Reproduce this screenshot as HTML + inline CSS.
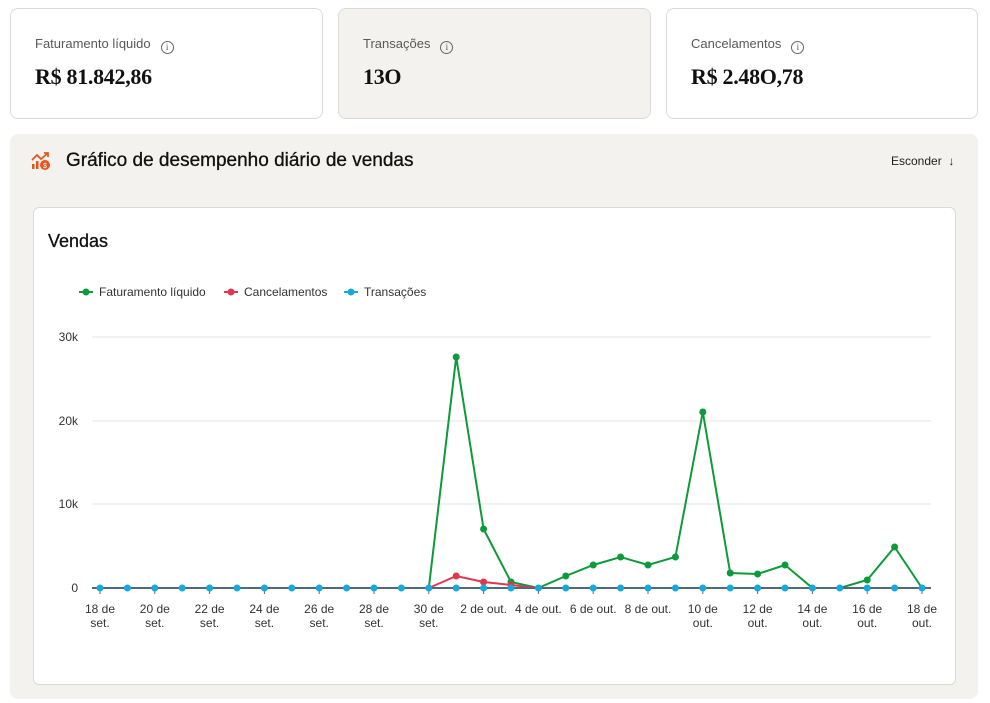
<!DOCTYPE html>
<html><head><meta charset="utf-8"><style>
*{box-sizing:border-box;margin:0;padding:0}
body{width:990px;height:703px;background:#fff;font-family:"Liberation Sans",sans-serif;position:relative;overflow:hidden;color:#111}
.card{position:absolute;top:8px;height:111px;border:1px solid #dcdad6;border-radius:8px;background:#fff}
.card .l{position:absolute;left:24px;top:27px;font-size:13px;color:#595959}
.card .l span{display:inline-block;width:13px;height:13px;border:1.3px solid #666;border-radius:50%;font-size:9px;text-align:center;line-height:11px;margin-left:10px;vertical-align:-2px;font-family:"Liberation Serif",serif;color:#555}
.card .v{position:absolute;left:24px;top:55px;font-size:22px;font-weight:bold;font-family:"Liberation Serif",serif;letter-spacing:-0.3px}
.panel{position:absolute;left:10px;top:134px;width:968px;height:565px;background:#f3f2ef;border-radius:8px}
.inner{position:absolute;left:33px;top:207px;width:923px;height:478px;background:#fff;border:1px solid #dcdad6;border-radius:6px}
</style></head><body>
<div class="card" style="left:10px;width:313px"><div class="l">Faturamento líquido<span>i</span></div><div class="v">R$ 81.842,86</div></div>
<div class="card" style="left:338px;width:313px;background:#f3f2ef"><div class="l">Transações<span>i</span></div><div class="v">13O</div></div>
<div class="card" style="left:666px;width:312px"><div class="l">Cancelamentos<span>i</span></div><div class="v">R$ 2.48O,78</div></div>
<div class="panel"></div>
<svg style="position:absolute;left:31px;top:151px" width="22" height="22" viewBox="0 0 22 22"><g fill="#e8541c"><rect x="1" y="13" width="2.5" height="5"/><rect x="5" y="10" width="2.5" height="8"/><circle cx="14" cy="14" r="5"/></g><path d="M1 9 L6 4 L10 8 L17 2 M13 2 H17 V6" stroke="#e8541c" stroke-width="1.8" fill="none"/><text x="14" y="17" font-size="7" fill="#fff" text-anchor="middle" font-family="Liberation Sans">$</text></svg>
<div style="position:absolute;left:66px;top:150px;font-size:19px;color:#111;-webkit-text-stroke:0.3px #111">Gráfico de desempenho diário de vendas</div>
<div style="position:absolute;left:891px;top:154px;font-size:12px;color:#222">Esconder&nbsp;&nbsp;↓</div>
<div class="inner"></div>
<div style="position:absolute;left:48px;top:231px;font-size:18px;color:#111;-webkit-text-stroke:0.3px #111">Vendas</div>
<svg style="position:absolute;left:0;top:0" width="990" height="703" font-family="Liberation Sans,sans-serif" font-size="12">
<g font-size="12" fill="#333">
<line x1="79" y1="292" x2="93" y2="292" stroke="#0d9a3a" stroke-width="2"/><circle cx="86" cy="292" r="3.5" fill="#0d9a3a"/><text x="99" y="296">Faturamento líquido</text>
<line x1="224" y1="292" x2="238" y2="292" stroke="#e0364f" stroke-width="2"/><circle cx="231" cy="292" r="3.5" fill="#e0364f"/><text x="244" y="296">Cancelamentos</text>
<line x1="344" y1="292" x2="358" y2="292" stroke="#16a9dc" stroke-width="2"/><circle cx="351" cy="292" r="3.5" fill="#16a9dc"/><text x="364" y="296">Transações</text>
</g>
<g stroke="#e6e6e6"><line x1="92" y1="337" x2="931" y2="337"/><line x1="92" y1="421" x2="931" y2="421"/><line x1="92" y1="504" x2="931" y2="504"/></g>
<g fill="#333" text-anchor="end"><text x="78" y="341">30k</text><text x="78" y="425">20k</text><text x="78" y="508">10k</text><text x="78" y="592">0</text></g>
<g stroke="#666"><line x1="100" y1="588" x2="100" y2="594"/><line x1="154.8" y1="588" x2="154.8" y2="594"/><line x1="209.6" y1="588" x2="209.6" y2="594"/><line x1="264.4" y1="588" x2="264.4" y2="594"/><line x1="319.2" y1="588" x2="319.2" y2="594"/><line x1="374" y1="588" x2="374" y2="594"/><line x1="428.8" y1="588" x2="428.8" y2="594"/><line x1="483.6" y1="588" x2="483.6" y2="594"/><line x1="538.4" y1="588" x2="538.4" y2="594"/><line x1="593.2" y1="588" x2="593.2" y2="594"/><line x1="648" y1="588" x2="648" y2="594"/><line x1="702.8" y1="588" x2="702.8" y2="594"/><line x1="757.6" y1="588" x2="757.6" y2="594"/><line x1="812.4" y1="588" x2="812.4" y2="594"/><line x1="867.2" y1="588" x2="867.2" y2="594"/><line x1="922" y1="588" x2="922" y2="594"/></g>
<g fill="#333" text-anchor="middle">
<text x="100" y="613">18 de</text><text x="100" y="627">set.</text>
<text x="154.8" y="613">20 de</text><text x="154.8" y="627">set.</text>
<text x="209.6" y="613">22 de</text><text x="209.6" y="627">set.</text>
<text x="264.4" y="613">24 de</text><text x="264.4" y="627">set.</text>
<text x="319.2" y="613">26 de</text><text x="319.2" y="627">set.</text>
<text x="374" y="613">28 de</text><text x="374" y="627">set.</text>
<text x="428.8" y="613">30 de</text><text x="428.8" y="627">set.</text>
<text x="483.6" y="613">2 de out.</text>
<text x="538.4" y="613">4 de out.</text>
<text x="593.2" y="613">6 de out.</text>
<text x="648" y="613">8 de out.</text>
<text x="702.8" y="613">10 de</text><text x="702.8" y="627">out.</text>
<text x="757.6" y="613">12 de</text><text x="757.6" y="627">out.</text>
<text x="812.4" y="613">14 de</text><text x="812.4" y="627">out.</text>
<text x="867.2" y="613">16 de</text><text x="867.2" y="627">out.</text>
<text x="922" y="613">18 de</text><text x="922" y="627">out.</text>
</g>
<polyline fill="none" stroke="#0d9a3a" stroke-width="2" points="100,588 428.8,588 456.2,357 483.6,529 511,582 538.4,588 565.8,576 593.2,565 620.6,557 648,565 675.4,557 702.8,412 730.2,573 757.6,574 785,565 812.4,588 839.8,588 867.2,580 894.6,547 922,588"/>
<g fill="#0d9a3a"><circle cx="456.2" cy="357" r="3.5"/><circle cx="483.6" cy="529" r="3.5"/><circle cx="511" cy="582" r="3.5"/><circle cx="565.8" cy="576" r="3.5"/><circle cx="593.2" cy="565" r="3.5"/><circle cx="620.6" cy="557" r="3.5"/><circle cx="648" cy="565" r="3.5"/><circle cx="675.4" cy="557" r="3.5"/><circle cx="702.8" cy="412" r="3.5"/><circle cx="730.2" cy="573" r="3.5"/><circle cx="757.6" cy="574" r="3.5"/><circle cx="785" cy="565" r="3.5"/><circle cx="867.2" cy="580" r="3.5"/><circle cx="894.6" cy="547" r="3.5"/></g>
<polyline fill="none" stroke="#e0364f" stroke-width="2" points="428.8,588 456.2,576 483.6,582 511,585 538.4,588"/>
<g fill="#e0364f"><circle cx="456.2" cy="576" r="3.5"/><circle cx="483.6" cy="582" r="3.5"/><circle cx="511" cy="585" r="3.5"/></g>
<line x1="92" y1="588" x2="931" y2="588" stroke="#4f6b78" stroke-width="2"/>
<g fill="#16a9dc"><circle cx="100" cy="588" r="3.5"/><circle cx="127.4" cy="588" r="3.5"/><circle cx="154.8" cy="588" r="3.5"/><circle cx="182.2" cy="588" r="3.5"/><circle cx="209.6" cy="588" r="3.5"/><circle cx="237" cy="588" r="3.5"/><circle cx="264.4" cy="588" r="3.5"/><circle cx="291.8" cy="588" r="3.5"/><circle cx="319.2" cy="588" r="3.5"/><circle cx="346.6" cy="588" r="3.5"/><circle cx="374" cy="588" r="3.5"/><circle cx="401.4" cy="588" r="3.5"/><circle cx="428.8" cy="588" r="3.5"/><circle cx="456.2" cy="588" r="3.5"/><circle cx="483.6" cy="588" r="3.5"/><circle cx="511" cy="588" r="3.5"/><circle cx="538.4" cy="588" r="3.5"/><circle cx="565.8" cy="588" r="3.5"/><circle cx="593.2" cy="588" r="3.5"/><circle cx="620.6" cy="588" r="3.5"/><circle cx="648" cy="588" r="3.5"/><circle cx="675.4" cy="588" r="3.5"/><circle cx="702.8" cy="588" r="3.5"/><circle cx="730.2" cy="588" r="3.5"/><circle cx="757.6" cy="588" r="3.5"/><circle cx="785" cy="588" r="3.5"/><circle cx="812.4" cy="588" r="3.5"/><circle cx="839.8" cy="588" r="3.5"/><circle cx="867.2" cy="588" r="3.5"/><circle cx="894.6" cy="588" r="3.5"/><circle cx="922" cy="588" r="3.5"/></g>
</svg>
</body></html>
